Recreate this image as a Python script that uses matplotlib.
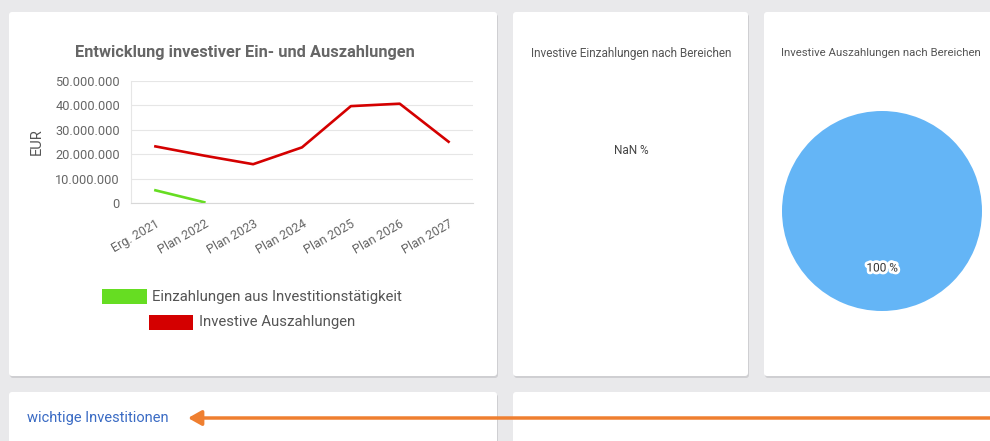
import matplotlib
matplotlib.use("Agg")
import matplotlib.pyplot as plt
import matplotlib.patheffects as pe
from matplotlib.patches import FancyBboxPatch, Rectangle

# Daten
kategorien = ["Erg. 2021", "Plan 2022", "Plan 2023", "Plan 2024",
              "Plan 2025", "Plan 2026", "Plan 2027"]
einzahlungen = [5200000, 300000, None, None, None, None, None]
auszahlungen = [23200000, 19400000, 15900000, 22800000, 39700000, 40700000, 25100000]
y_ticks = [0, 10000000, 20000000, 30000000, 40000000, 50000000]
pie_bereiche = ["Bereich"]
pie_werte = [100]

W, H = 990, 441
fig = plt.figure(figsize=(W / 100, H / 100), dpi=100)
fig.patch.set_facecolor("#e9e9eb")

# Hintergrund-Achse in Pixelkoordinaten
bg = fig.add_axes([0, 0, 1, 1])
bg.set_xlim(0, W)
bg.set_ylim(H, 0)
bg.axis("off")


def karte(x0, y0, x1, y1):
    schatten = FancyBboxPatch((x0 + 1, y0 + 2), x1 - x0, y1 - y0,
                              boxstyle="round,pad=0,rounding_size=3",
                              fc="#cfcfd2", ec="none", zorder=1)
    bg.add_patch(schatten)
    k = FancyBboxPatch((x0, y0), x1 - x0, y1 - y0,
                       boxstyle="round,pad=0,rounding_size=3",
                       fc="white", ec="none", zorder=2)
    bg.add_patch(k)


karte(9, 12, 497, 376)
karte(513, 12, 748, 376)
karte(764, 12, 1000, 376)
karte(9, 392, 497, 450)
karte(513, 392, 1000, 450)

# Titel
bg.text(245, 52, "Entwicklung investiver Ein- und Auszahlungen", ha="center", va="center",
        fontsize=11.8, fontweight="bold", color="#666666", family="Roboto", zorder=3)
bg.text(631, 53, "Investive Einzahlungen nach Bereichen", ha="center", va="center",
        fontsize=8.5, color="#555555", family="Roboto", zorder=3)
bg.text(881, 53, "Investive Auszahlungen nach Bereichen", ha="center", va="center",
        fontsize=8.2, color="#555555", family="Roboto", zorder=3)
bg.text(631, 151, "NaN %", ha="center", va="center",
        fontsize=8.5, color="#444444", family="Roboto", zorder=3)

# Legende
bg.add_patch(Rectangle((102, 289), 45, 15, fc="#66dd22", ec="none", zorder=3))
bg.text(152, 297, "Einzahlungen aus Investitionstätigkeit", ha="left", va="center",
        fontsize=10.7, color="#555555", family="Roboto", zorder=3)
bg.add_patch(Rectangle((149, 315), 44, 15, fc="#d40000", ec="none", zorder=3))
bg.text(199, 322, "Investive Auszahlungen", ha="left", va="center",
        fontsize=10.7, color="#555555", family="Roboto", zorder=3)

# unten
bg.text(27, 418, "wichtige Investitionen", ha="left", va="center",
        fontsize=10.5, color="#3a6bc4", family="Roboto", zorder=3)
bg.annotate("", xy=(188, 418), xytext=(995, 418), zorder=4,
            arrowprops=dict(arrowstyle="-|>,head_length=0.8,head_width=0.45",
                            color="#ef7f30", lw=2.5, shrinkA=0, shrinkB=0))

# Liniendiagramm
ax = fig.add_axes([131 / W, 1 - 203 / H, (473 - 131) / W, (203 - 81) / H])
ax.set_facecolor("none")
x = list(range(len(kategorien)))
ax.plot(x, auszahlungen, color="#d40000", lw=1.9, solid_joinstyle="round")
ein_x = [i for i, v in enumerate(einzahlungen) if v is not None]
ein_y = [v for v in einzahlungen if v is not None]
ax.plot(ein_x, ein_y, color="#66dd22", lw=1.9)
ax.set_xlim(-0.5, len(kategorien) - 0.5)
ax.set_ylim(0, 50000000)
ax.set_yticks(y_ticks)
ax.set_yticklabels([f"{v:,}".replace(",", ".") for v in y_ticks],
                   fontsize=9.2, color="#666666", family="Roboto")
ax.set_xticks(x)
ax.set_xticklabels(kategorien, rotation=30, ha="right", rotation_mode="anchor",
                   fontsize=9, color="#666666", family="Roboto")
ax.tick_params(length=0, pad=8)
ax.tick_params(axis="x", pad=10)
ax.grid(axis="y", color="#e6e6e6", lw=0.8)
ax.set_axisbelow(True)
for s in ["top", "right"]:
    ax.spines[s].set_visible(False)
ax.spines["left"].set_color("#e6e6e6")
ax.spines["bottom"].set_color("#d8d8d8")
ax.set_ylabel("EUR", fontsize=10.5, color="#555555", family="Roboto", labelpad=8)

# Kreisdiagramm
r = 100
pax = fig.add_axes([(882 - r) / W, 1 - (211 + r) / H, 2 * r / W, 2 * r / H])
pax.pie(pie_werte, colors=["#64b5f6"], startangle=90, radius=1,
        wedgeprops=dict(ec="none"))
pax.set_aspect("equal")
pax.set_xlim(-1, 1)
pax.set_ylim(-1, 1)
pax.text(0, -0.57, "100 %", ha="center", va="center", fontsize=8.5, color="#333333",
         family="Roboto",
         path_effects=[pe.withStroke(linewidth=4, foreground="white")])

fig.savefig("out.png", dpi=100)
